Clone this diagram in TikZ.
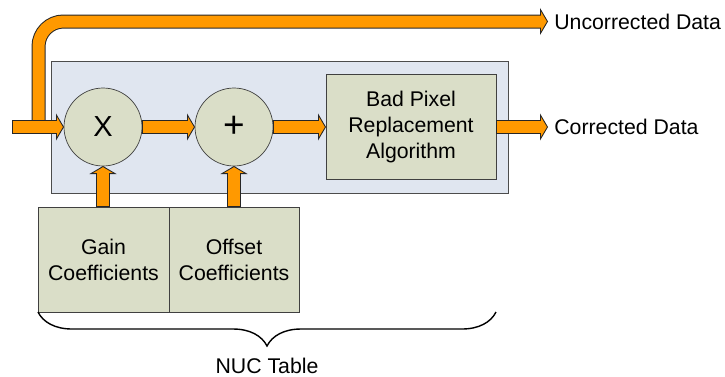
\documentclass[tikz,border=0pt]{standalone}
\usepackage{fontspec}
\setmainfont{Liberation Sans}
\usetikzlibrary{arrows.meta,decorations.pathreplacing}
\definecolor{flowor}{HTML}{FF9900}
\definecolor{panelblue}{HTML}{E0E6F0}
\definecolor{blockgray}{HTML}{DADEC8}

\begin{document}
\begin{tikzpicture}[scale=1]
    \tikzset{panel/.style={rectangle,draw=black!70,fill=panelblue,minimum width=9.14cm,minimum height=2.64cm,inner sep=0pt,outer sep=0pt},
             block/.style={rectangle,draw=black!75,fill=blockgray,inner sep=0pt,outer sep=0pt,minimum height=2.1cm,align=center,font=\fontsize{12.1}{14.8}\selectfont},
             op/.style={circle,draw=black!75,fill=blockgray,minimum size=1.56cm,inner sep=0pt,outer sep=0pt},
             flow/.style={draw=flowor,line width=0.24cm,shorten >=0.12cm,shorten <=0.3pt,
                 preaction={draw=black!85,line width=0.28cm,shorten >=0pt,shorten <=0pt,-{Triangle[length=0.16cm,width=0.54cm,line width=0.5pt,fill=flowor]}}},
             lbl/.style={inner sep=0pt,anchor=west,font=\fontsize{12.1}{14.8}\selectfont},
             nucbrace/.style={decorate,decoration={brace,mirror,amplitude=0.68cm},line width=0.8pt}}
    \useasboundingbox (0,0) rectangle (14.5,7.52);
    \node[panel] (proc) at (5.59,4.98) {};
    \node[op] (mul) at (2.06,4.98) {\fontsize{16.5}{19}\selectfont X};
    \node[op] (add) at (4.68,4.98) {\fontsize{21}{24}\selectfont +};
    \node[block,minimum width=3.4cm] (bpr) at (8.22,4.98) {Bad Pixel\\Replacement\\Algorithm};
    \node[block,minimum width=2.62cm] (gain) at (2.07,2.33) {Gain\\Coefficients};
    \node[block,minimum width=2.6cm] (offset) at (4.68,2.33) {Offset\\Coefficients};
    \coordinate (src) at (0.24,4.98);
    \coordinate (tap) at (0.77,4.98);
    \coordinate (raw) at (10.96,7.09);
    \coordinate (out) at (10.96,4.98);
    \draw[flow,rounded corners=0.5cm] (tap) |- (raw);
    \draw[flow] (src) -- (mul.west);
    \draw[flow] (mul.east) -- (add.west);
    \draw[flow] (add.east) -- (bpr.west);
    \draw[flow] (bpr.east) -- (out);
    \draw[flow] (gain.north -| mul) -- (mul.south);
    \draw[flow] (offset.north -| add) -- (add.south);
    \node[lbl] (rawlbl) at (11.08,7.09) {Uncorrected Data};
    \node[lbl] (outlbl) at (11.08,4.98) {Corrected Data};
    \draw[nucbrace] (gain.south west) -- (gain.south west -| bpr.east) node[midway,yshift=-1.08cm,font=\fontsize{12.1}{14.8}\selectfont] (nuc) {NUC Table};
\end{tikzpicture}
\end{document}
